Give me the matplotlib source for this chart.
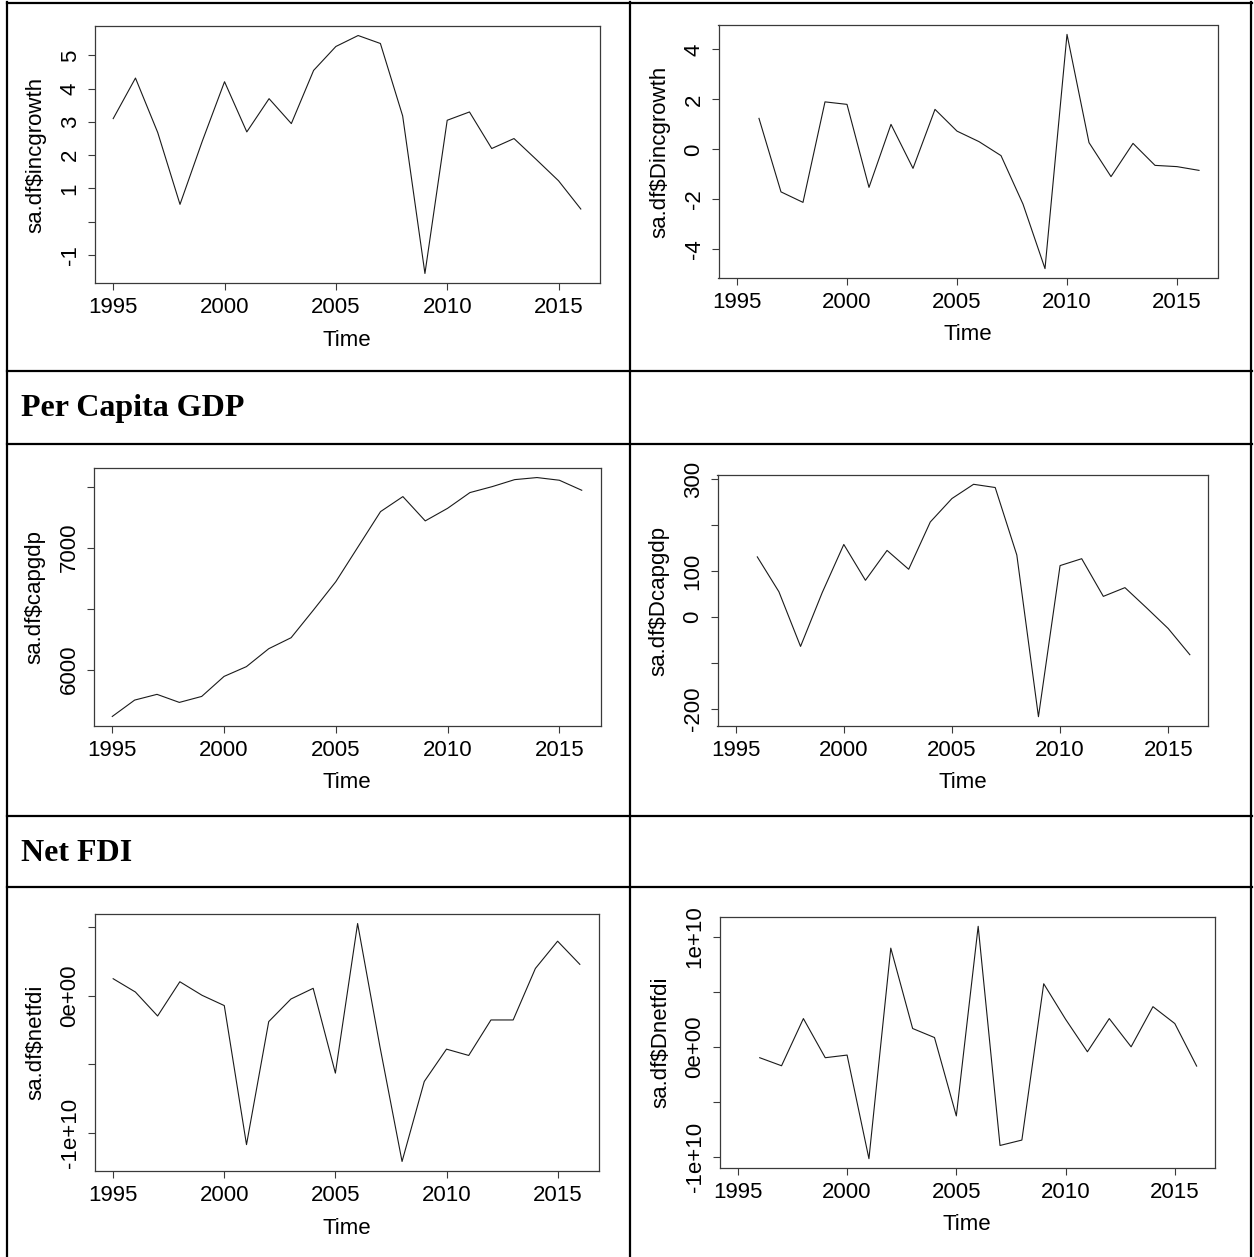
import matplotlib
matplotlib.use('Agg')
import matplotlib.pyplot as plt
from matplotlib.lines import Line2D

# canvas in pixels (dpi 100)
W, H = 1254, 1257
DPI = 100

years = list(range(1995, 2017))
diff_years = list(range(1996, 2017))

# income growth (%)
incgrowth = [3.10, 4.32, 2.68, 0.52, 2.42, 4.21, 2.70, 3.70, 2.95, 4.55, 5.27, 5.60, 5.36,
             3.18, -1.56, 3.05, 3.30, 2.20, 2.50, 1.87, 1.23, 0.38]
d_incgrowth = [1.24, -1.70, -2.12, 1.90, 1.80, -1.52, 1.00, -0.76, 1.60, 0.73, 0.31,
               -0.25, -2.19, -4.77, 4.60, 0.27, -1.09, 0.24, -0.64, -0.69, -0.84]

# per capita GDP
capgdp = [5617, 5751, 5798, 5732, 5781, 5945, 6025, 6172, 6262, 6489, 6721, 7008, 7295,
          7418, 7219, 7322, 7451, 7500, 7557, 7574, 7552, 7470]
d_capgdp = [131, 55, -64, 53, 158, 80, 145, 104, 207, 258, 289, 282, 135, -217, 112, 127,
            45, 64, 20, -25, -82]

# net FDI
netfdi = [1.26e9, 0.29e9, -1.46e9, 1.04e9, 0.05e9, -0.70e9, -10.85e9, -1.87e9, -0.22e9,
          0.56e9, -5.63e9, 5.29e9, -3.66e9, -12.08e9, -6.24e9, -3.88e9, -4.34e9, -1.75e9,
          -1.75e9, 2.01e9, 4.00e9, 2.31e9]
d_netfdi = [-0.99e9, -1.72e9, 2.56e9, -0.99e9, -0.75e9, -10.15e9, 8.95e9, 1.66e9, 0.84e9,
            -6.27e9, 10.93e9, -8.95e9, -8.46e9, 5.72e9, 2.50e9, -0.45e9, 2.56e9, 0.0,
            3.64e9, 2.11e9, -1.75e9]

xtick_vals = [1995, 2000, 2005, 2010, 2015]

panels = [
    # (x, y, ylabel, yticks, yticklabels, box left, top, right, bottom in px)
    (years, incgrowth, 'sa.df$incgrowth', [5, 4, 3, 2, 1, 0, -1],
     ['5', '4', '3', '2', '1', '', '-1'], (94.5, 26, 599.5, 283)),
    (diff_years, d_incgrowth, 'sa.df$Dincgrowth', [4, 2, 0, -2, -4],
     ['4', '2', '0', '-2', '-4'], (718.5, 25, 1217.5, 278)),
    (years, capgdp, 'sa.df$capgdp', [6000, 6500, 7000, 7500],
     ['6000', '', '7000', ''], (93.5, 468, 600.5, 726)),
    (diff_years, d_capgdp, 'sa.df$Dcapgdp', [300, 200, 100, 0, -100, -200],
     ['300', '', '100', '0', '', '-200'], (717.5, 475, 1208, 726)),
    (years, netfdi, 'sa.df$netfdi', [5e9, 0, -5e9, -1e10],
     ['', '0e+00', '', '-1e+10'], (94.5, 914, 598.5, 1171)),
    (diff_years, d_netfdi, 'sa.df$Dnetfdi', [1e10, 5e9, 0, -5e9, -1e10],
     ['1e+10', '', '0e+00', '', '-1e+10'], (719.5, 917, 1215, 1168)),
]

plt.rcParams['font.family'] = 'Liberation Sans'
fig = plt.figure(figsize=(W / DPI, H / DPI), dpi=DPI)

box_col = '#3a3a3a'
fs = 16
span = years[-1] - years[0]

for x, y, ylab, yt, ytl, (l, t, r, b) in panels:
    ax = fig.add_axes([l / W, 1 - b / H, (r - l) / W, (b - t) / H])
    ax.plot(x, y, color='#1a1a1a', lw=0.8)
    ax.margins(y=0.04)
    # all panels share the 1995-2016 time window
    ax.set_xlim(years[0] - 0.04 * span, years[-1] + 0.04 * span)
    ax.set_xticks(xtick_vals)
    ax.set_xticklabels([str(v) for v in xtick_vals], fontsize=fs)
    ax.set_yticks(yt, ytl, rotation=90, va='center', fontsize=fs)
    for s in ax.spines.values():
        s.set_color(box_col)
        s.set_linewidth(0.9)
    ax.tick_params(axis='both', direction='out', length=5, width=0.8, color=box_col)
    ax.tick_params(axis='x', pad=5)
    ax.tick_params(axis='y', pad=5)
    ax.set_xlabel('Time', fontsize=fs)
    ax.set_ylabel(ylab, fontsize=fs)
    hpx, wpx = b - t, r - l
    ax.xaxis.set_label_coords(0.5, -57 / hpx)
    ax.xaxis.label.set_va('center')
    ax.yaxis.set_label_coords(-59 / wpx, 0.5)
    ax.yaxis.label.set_va('center')

# table grid
def hline(yp, x0=7, x1=1252):
    fig.add_artist(Line2D([x0 / W, x1 / W], [1 - yp / H, 1 - yp / H],
                          transform=fig.transFigure, color='black', lw=1.6))

def vline(xp, y0=2, y1=1257):
    fig.add_artist(Line2D([xp / W, xp / W], [1 - y0 / H, 1 - y1 / H],
                          transform=fig.transFigure, color='black', lw=1.6))

for yp in [3, 371, 444, 816, 887]:
    hline(yp)
for xp in [7, 630, 1251]:
    vline(xp)

fig.text(21 / W, 1 - 416 / H, 'Per Capita GDP', fontfamily='Liberation Serif',
         fontweight='bold', fontsize=23, va='baseline', ha='left')
fig.text(21 / W, 1 - 861 / H, 'Net FDI', fontfamily='Liberation Serif',
         fontweight='bold', fontsize=23, va='baseline', ha='left')

fig.savefig('out.png', dpi=DPI)
